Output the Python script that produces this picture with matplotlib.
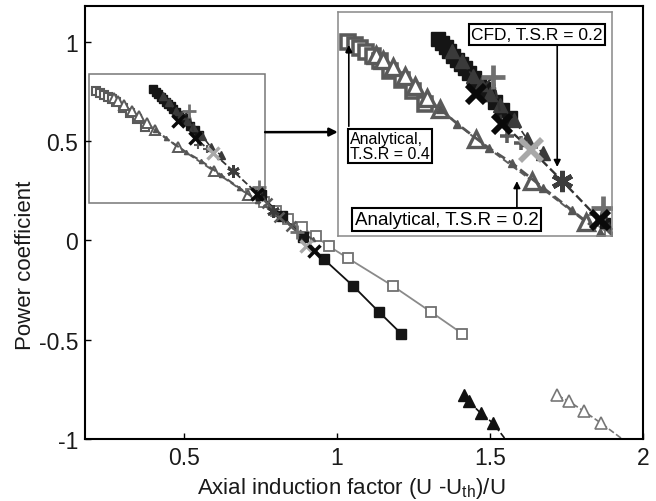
import matplotlib
matplotlib.use("Agg")
import matplotlib.pyplot as plt
from matplotlib.patches import Rectangle

plt.rcParams["font.family"] = ["Liberation Sans", "DejaVu Sans"]
plt.rcParams["axes.unicode_minus"] = False
plt.rcParams["mathtext.fontset"] = "custom"
plt.rcParams["mathtext.rm"] = "Liberation Sans"
plt.rcParams["mathtext.it"] = "Liberation Sans:italic"

# analytical, open squares (two stretches)
sq_open_a_x = [0.212, 0.225, 0.237, 0.25, 0.263, 0.278, 0.30, 0.324, 0.347, 0.373]
sq_open_a_y = [0.752, 0.742, 0.733, 0.722, 0.71, 0.695, 0.668, 0.64, 0.61, 0.572]
sq_open_b_x = [0.72, 0.76, 0.80, 0.84, 0.885, 0.93, 0.974, 1.036, 1.183, 1.307, 1.41]
sq_open_b_y = [0.235, 0.195, 0.15, 0.11, 0.065, 0.02, -0.03, -0.09, -0.23, -0.36, -0.47]

# analytical, open triangles
tri_open_a_x = [0.27, 0.285, 0.305, 0.33, 0.352, 0.378, 0.404, 0.48, 0.597, 0.71]
tri_open_a_y = [0.715, 0.70, 0.68, 0.652, 0.624, 0.59, 0.558, 0.47, 0.35, 0.23]
tri_open_b_x = [1.72, 1.758, 1.807, 1.863, 1.95]
tri_open_b_y = [-0.78, -0.81, -0.86, -0.92, -1.02]

# analytical T.S.R 0.2 dashed line with small markers
dash_x = [0.404, 0.44, 0.507, 0.556, 0.62, 0.68, 0.74, 0.80, 0.86, 0.92]
dash_y = [0.558, 0.515, 0.444, 0.40, 0.33, 0.265, 0.20, 0.135, 0.07, 0.005]

# filled black squares
sq_fill_a_x = [0.40, 0.408, 0.416, 0.424, 0.432, 0.44, 0.448, 0.456, 0.465,
               0.475, 0.485, 0.495, 0.505, 0.52, 0.535, 0.55]
sq_fill_a_y = [0.76, 0.748, 0.736, 0.724, 0.711, 0.699, 0.687, 0.675, 0.661,
               0.646, 0.631, 0.616, 0.60, 0.578, 0.555, 0.532]
sq_fill_b_x = [0.75, 0.82, 0.89, 0.958, 1.053, 1.137, 1.21]
sq_fill_b_y = [0.228, 0.122, 0.015, -0.096, -0.23, -0.36, -0.47]

# filled dark triangles
tri_fill_a_x = [0.43, 0.45, 0.473, 0.49, 0.51, 0.53, 0.56, 0.587, 0.62]
tri_fill_a_y = [0.725, 0.695, 0.653, 0.63, 0.60, 0.57, 0.525, 0.47, 0.43]
tri_fill_b_x = [1.415, 1.43, 1.47, 1.51, 1.56]
tri_fill_b_y = [-0.78, -0.81, -0.87, -0.92, -1.02]

# CFD, T.S.R = 0.2
cfd_xblack_x = [0.48, 0.535, 0.74, 0.925]
cfd_xblack_y = [0.60, 0.515, 0.235, -0.055]
cfd_plus_x = [0.515, 0.745, 0.87]
cfd_plus_y = [0.65, 0.27, 0.04]
cfd_plus_small_x = [0.545, 0.575]
cfd_plus_small_y = [0.48, 0.46]
cfd_xlight_x = [0.595, 0.90]
cfd_xlight_y = [0.44, -0.03]
cfd_star_x = [0.66, 0.79]
cfd_star_y = [0.35, 0.15]
cfd_xgray_x = [0.77, 0.81, 0.85]
cfd_xgray_y = [0.19, 0.12, 0.07]


def draw(ax, k):
    ax.plot(sq_open_a_x, sq_open_a_y, "-", color="#808080", lw=1.2, marker="s",
            ms=6 * k, mfc="white", mec="#5a5a5a", mew=1.5 * k)
    ax.plot(sq_open_b_x, sq_open_b_y, "-", color="#8a8a8a", lw=1.3, marker="s",
            ms=7, mfc="white", mec="#707070", mew=1.3)
    ax.plot(tri_open_a_x, tri_open_a_y, "--", color="#5e5e5e", lw=1.4, marker="^",
            ms=7 * k, mfc="white", mec="#5a5a5a", mew=1.4 * k)
    ax.plot(tri_open_b_x, tri_open_b_y, "--", color="#777777", lw=1.2,
            marker="^", ms=9, mfc="white", mec="#777777", mew=1.2,
            markevery=[0, 1, 2, 3])
    ax.plot(dash_x, dash_y, "--", color="#555555", lw=1.5 * k ** 0.5, marker="^",
            ms=3 * k, mfc="#555555", mec="#555555")
    ax.plot(sq_fill_a_x, sq_fill_a_y, "-", color="#111111", lw=1.2, marker="s",
            ms=6 * k, mfc="#151515", mec="#151515")
    ax.plot(sq_fill_b_x, sq_fill_b_y, "-", color="#111111", lw=1.3, marker="s",
            ms=7, mfc="#151515", mec="#151515")
    ax.plot(tri_fill_a_x, tri_fill_a_y, "--", color="#333333", lw=1.2, marker="^",
            ms=6 * k, mfc="#3a3a3a", mec="#3a3a3a")
    ax.plot(tri_fill_b_x, tri_fill_b_y, "--", color="#111111", lw=1.2,
            marker="^", ms=9, mfc="#111111", mec="#111111",
            markevery=[0, 1, 2, 3])
    # dashed line through the CFD points
    pts = sorted(zip(cfd_xblack_x + cfd_plus_x + cfd_xlight_x + cfd_star_x + cfd_xgray_x,
                     cfd_xblack_y + cfd_plus_y + cfd_xlight_y + cfd_star_y + cfd_xgray_y))
    ax.plot([p[0] for p in pts], [p[1] for p in pts], "--", color="#333333",
            lw=1.3 * k ** 0.5)
    ax.plot(cfd_xgray_x, cfd_xgray_y, "x", ls="none", ms=7 * k, mec="#5a5a5a",
            mew=1.8 * k)
    ax.plot(cfd_plus_small_x, cfd_plus_small_y, "+", ls="none", ms=6 * k,
            mec="#5a5a5a", mew=1.5 * k)
    ax.plot(cfd_plus_x, cfd_plus_y, "+", ls="none", ms=10 * k, mec="#707070",
            mew=2.0 * k)
    ax.plot(cfd_xlight_x, cfd_xlight_y, "x", ls="none", ms=9 * k, mec="#a8a8a8",
            mew=2.4 * k)
    ax.plot(cfd_star_x, cfd_star_y, marker=(6, 2, 0), ls="none", ms=9 * k,
            mec="#3c3c3c", mew=2.0 * k)
    ax.plot(cfd_xblack_x, cfd_xblack_y, "x", ls="none", ms=8 * k, mec="#0a0a0a",
            mew=2.5 * k)


fig = plt.figure(figsize=(6.56, 5.02), dpi=100)
ax = fig.add_axes([0.130, 0.1235, 0.850, 0.8625])
draw(ax, 1.0)
ax.set_xlim(0.177, 2.0)
ax.set_ylim(-1, 1.18)
ax.set_xticks([0.5, 1, 1.5, 2])
ax.set_xticklabels(["0.5", "1", "1.5", "2"])
ax.set_yticks([-1, -0.5, 0, 0.5, 1])
ax.set_yticklabels(["-1", "-0.5", "0", "0.5", "1"])
ax.tick_params(direction="in", length=4, width=1, labelsize=16.5, pad=5,
               labelcolor="#1a1a1a")
for s in ax.spines.values():
    s.set_linewidth(1.5)
ax.set_xlabel(r"Axial induction factor (U -U$_{\mathrm{th}}$)/U", fontsize=16,
              color="#1a1a1a")
ax.set_ylabel("Power coefficient", fontsize=16, color="#1a1a1a")
ax.xaxis.set_label_coords(0.477, -0.083)
ax.yaxis.set_label_coords(-0.088, 0.404)
ax.add_patch(Rectangle((0.19, 0.19), 0.575, 0.648, fill=False, ec="#777777", lw=1.1))

axins = fig.add_axes([0.515, 0.528, 0.418, 0.446])
draw(axins, 1.7)
axins.set_xlim(0.19, 0.765)
axins.set_ylim(0.19, 0.838)
axins.set_xticks([])
axins.set_yticks([])
for s in axins.spines.values():
    s.set_color("#888888")
    s.set_linewidth(1.1)

ax.annotate("", xy=(0, 0.464), xycoords=axins.transAxes, xytext=(0.765, 0.545),
            textcoords="data",
            arrowprops=dict(arrowstyle="-|>", color="black", lw=1.8,
                            mutation_scale=12, shrinkA=0, shrinkB=0))

box = dict(boxstyle="square,pad=0.15", fc="white", ec="black", lw=1.5)
arrow = dict(arrowstyle="-|>", color="black", lw=1.2, mutation_scale=10,
             shrinkA=0, shrinkB=0)

axins.annotate("", xy=(0.80, 0.308), xycoords="axes fraction",
               xytext=(0.80, 0.857), textcoords="axes fraction", arrowprops=arrow)
axins.text(0.726, 0.90, "CFD, T.S.R = 0.2", transform=axins.transAxes,
           ha="center", va="center", fontsize=12.5, bbox=box)

axins.annotate("", xy=(0.04, 0.853), xycoords="axes fraction",
               xytext=(0.04, 0.49), textcoords="axes fraction", arrowprops=arrow)
axins.text(0.19, 0.402, "Analytical,\nT.S.R = 0.4", transform=axins.transAxes,
           ha="center", va="center", fontsize=11.5, linespacing=1.0,
           multialignment="left", bbox=box)

axins.annotate("", xy=(0.653, 0.245), xycoords="axes fraction",
               xytext=(0.653, 0.129), textcoords="axes fraction", arrowprops=arrow)
axins.text(0.396, 0.074, "Analytical, T.S.R = 0.2", transform=axins.transAxes,
           ha="center", va="center", fontsize=13.5, bbox=box)

fig.savefig("out.png", dpi=100)
